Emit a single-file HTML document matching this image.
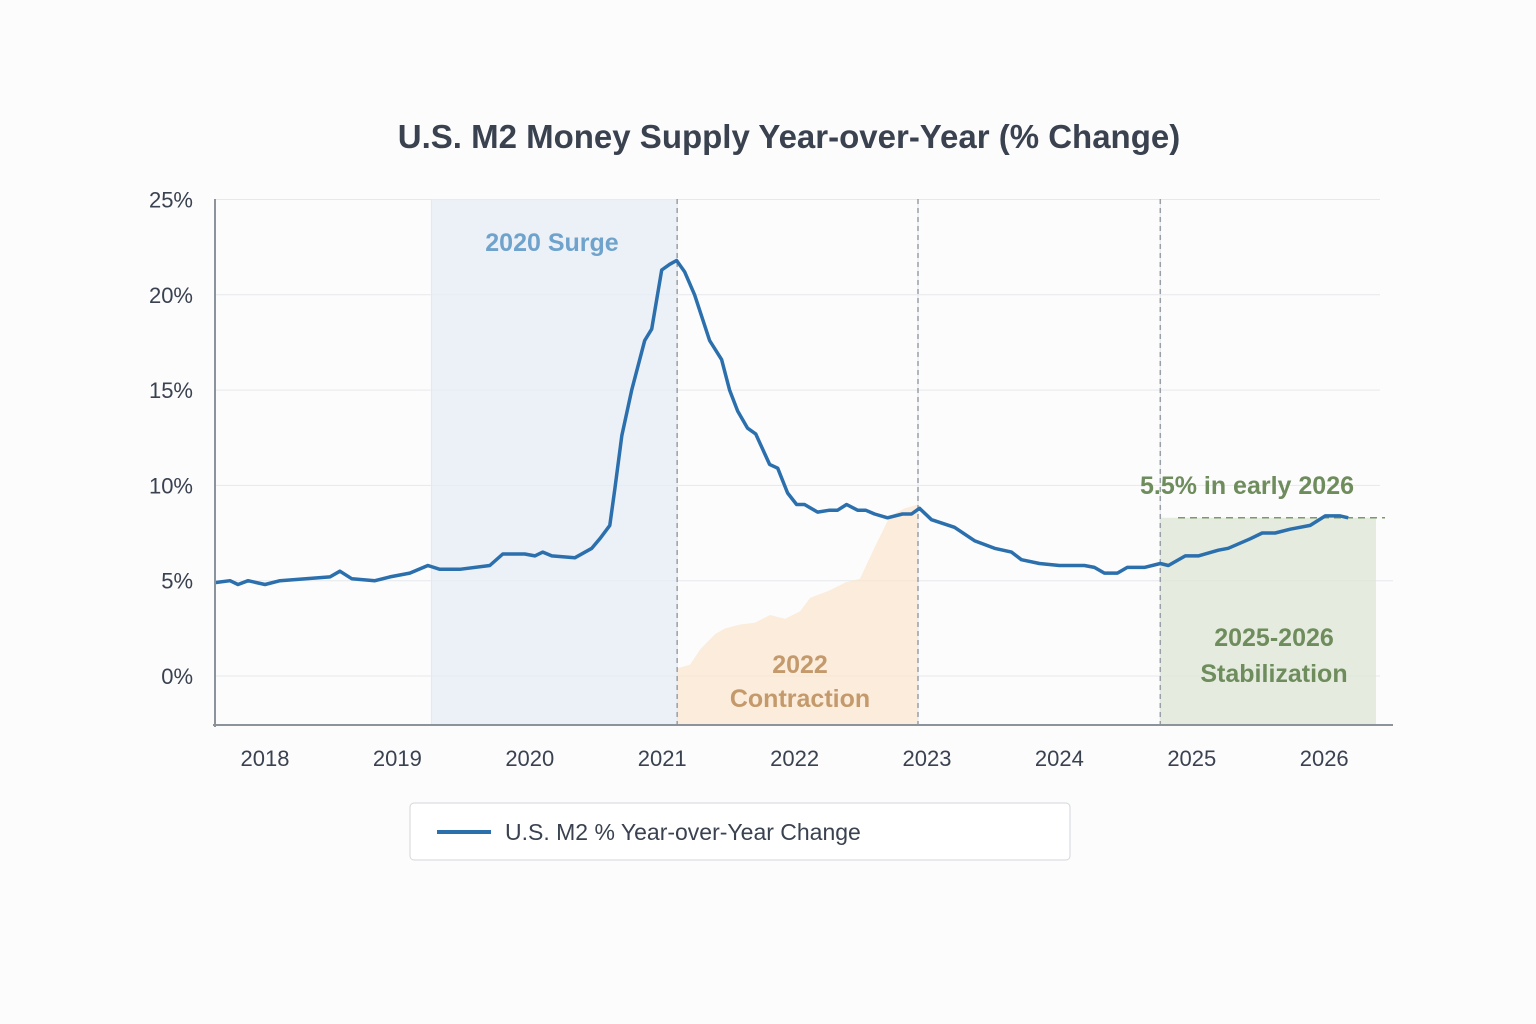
<!DOCTYPE html>
<html><head><meta charset="utf-8"><style>
body{margin:0;background:#fcfcfd;}
svg{display:block;font-family:"Liberation Sans","DejaVu Sans",sans-serif;}
</style></head><body>
<svg id="chart" width="1536" height="1024" viewBox="0 0 1536 1024">
<rect width="1536" height="1024" fill="#fcfcfd"/>
<text x="789" y="148" text-anchor="middle" font-size="33" font-weight="bold" fill="#3a4250">U.S. M2 Money Supply Year-over-Year (% Change)</text>
<g id="grid"></g>
<g id="bands"></g>
<g id="marks"></g>
<g id="axes"></g>
<g id="labels"></g>
<g>
<rect x="410" y="803" width="660" height="57" rx="4" fill="#fff" stroke="#d4d6da"/>
<line x1="437" y1="832" x2="491" y2="832" stroke="#2b6fad" stroke-width="4"/>
<text x="505" y="840" font-size="23" fill="#3a4250">U.S. M2 % Year-over-Year Change</text>
</g>
</svg>
<script>
const yTicks=[0,5,10,15,20,25];
const yearLabels=[2018,2019,2020,2021,2022,2023,2024,2025,2026];
const seriesT=[2017.622,2017.736,2017.796,2017.872,2018.0,2018.113,2018.491,2018.566,2018.656,2018.830,2018.943,2019.094,2019.230,2019.320,2019.471,2019.698,2019.796,2019.962,2020.038,2020.098,2020.166,2020.340,2020.468,2020.529,2020.604,2020.642,2020.695,2020.770,2020.868,2020.921,2020.996,2021.057,2021.109,2021.170,2021.245,2021.358,2021.449,2021.509,2021.570,2021.645,2021.706,2021.811,2021.872,2021.947,2022.015,2022.075,2022.174,2022.264,2022.325,2022.393,2022.476,2022.536,2022.604,2022.702,2022.815,2022.883,2022.943,2023.034,2023.208,2023.359,2023.510,2023.638,2023.713,2023.849,2024.0,2024.189,2024.264,2024.340,2024.438,2024.513,2024.642,2024.762,2024.823,2024.951,2025.049,2025.200,2025.275,2025.441,2025.532,2025.630,2025.743,2025.894,2026.008,2026.121,2026.181];
const seriesV=[4.9,5.0,4.8,5.0,4.8,5.0,5.2,5.5,5.1,5.0,5.2,5.4,5.8,5.6,5.6,5.8,6.4,6.4,6.3,6.5,6.3,6.2,6.7,7.2,7.9,9.8,12.6,15.0,17.6,18.2,21.3,21.6,21.8,21.2,20.0,17.6,16.6,15.0,13.9,13.0,12.7,11.1,10.9,9.6,9.0,9.0,8.6,8.7,8.7,9.0,8.7,8.7,8.5,8.3,8.5,8.5,8.8,8.2,7.8,7.1,6.7,6.5,6.1,5.9,5.8,5.8,5.7,5.4,5.4,5.7,5.7,5.9,5.8,6.3,6.3,6.6,6.7,7.2,7.5,7.5,7.7,7.9,8.4,8.4,8.3];
const contractionT=[2021.113,2021.211,2021.287,2021.400,2021.476,2021.589,2021.702,2021.815,2021.928,2022.042,2022.117,2022.268,2022.381,2022.494,2022.608,2022.721,2022.834,2022.932];
const contractionV=[0.4,0.6,1.4,2.2,2.5,2.7,2.8,3.2,3.0,3.4,4.1,4.5,4.9,5.1,6.8,8.4,8.8,9.0];
const bandStart=[2019.257,2021.113,2022.932,2024.762];
const annotationLevel=[8.3];

const NS="http://www.w3.org/2000/svg";
const X0=215,X1=1393,Y0=725;
const x=t=>265+(t-2018)*132.4;
const y=v=>676-v*19.06;
function mk(tag,attrs,parent){const e=document.createElementNS(NS,tag);for(const k in attrs)e.setAttribute(k,attrs[k]);document.getElementById(parent).appendChild(e);return e;}

yTicks.forEach(v=>{
 const g=mk('line',{x1:X0,x2:v===5?X1:1380,y1:y(v),y2:y(v),stroke:'#e6e8eb','stroke-width':1},'grid');
 
 
 const t=mk('text',{x:193,y:y(v)+8,'text-anchor':'end','font-size':22,fill:'#3a4250'},'axes');
 t.textContent=v+'%';
 
 
});
bandStart.forEach(t=>{
 const g=mk('line',{x1:x(t),x2:x(t),y1:199,y2:Y0,stroke:'#e4e6e9'},'grid');
 
 
});
const b1=mk('rect',{x:x(bandStart[0]),y:199,width:x(bandStart[1])-x(bandStart[0]),height:Y0-199,fill:'#e6edf5',opacity:0.7},'bands');


let d='M'+x(contractionT[0])+','+Y0;
contractionT.forEach((t,i)=>d+=' L'+x(t)+','+y(contractionV[i]));
d+=' L'+x(contractionT[contractionT.length-1])+','+Y0+' Z';
const b2=mk('path',{d:d,fill:'#fbe6cc',opacity:0.7},'bands');


const b3=mk('rect',{x:x(bandStart[3]),y:y(annotationLevel[0]),width:1376-x(bandStart[3]),height:Y0-y(annotationLevel[0]),fill:'#dfe7d7',opacity:0.8},'bands');


[1,2,3].forEach(i=>{
 const l=mk('line',{x1:x(bandStart[i]),x2:x(bandStart[i]),y1:199,y2:Y0,stroke:'#9aa0a8','stroke-dasharray':'5,4','stroke-width':1.5},'bands');
 
 
});
const hl=mk('line',{x1:1178,x2:1385,y1:y(annotationLevel[0]),y2:y(annotationLevel[0]),stroke:'#7a9a68','stroke-dasharray':'7,5','stroke-width':1.5},'bands');


let p='';
seriesT.forEach((t,i)=>p+=(i?' L':'M')+x(t).toFixed(1)+','+y(seriesV[i]).toFixed(1));
const line=mk('path',{d:p,fill:'none',stroke:'#2b6fad','stroke-width':3.5,'stroke-linejoin':'round'},'marks');


const ax=mk('line',{x1:X0,x2:X0,y1:199,y2:Y0+2,stroke:'#8d939b','stroke-width':2},'axes');


const bx=mk('line',{x1:213,x2:X1,y1:Y0,y2:Y0,stroke:'#8d939b','stroke-width':2},'axes');


yearLabels.forEach(yr=>{
 const t=mk('text',{x:x(yr),y:766,'text-anchor':'middle','font-size':22,fill:'#3a4250'},'axes');
 t.textContent=yr;
 
 
});
function lab(txt,xx,yy,col,name){const t=mk('text',{x:xx,y:yy,'text-anchor':'middle','font-size':25,'font-weight':'bold',fill:col},'labels');t.textContent=txt;}
lab('2020 Surge',552,251,'#6fa3cc','surge-label');
lab('2022',800,673,'#c49a6c','contraction-label');
lab('Contraction',800,707,'#c49a6c','contraction-label-2');
lab('2025-2026',1274,646,'#6e8c5c','stabilization-label');
lab('Stabilization',1274,682,'#6e8c5c','stabilization-label-2');
lab('5.5% in early 2026',1247,494,'#6e8c5c','early-2026-callout');
</script>
</body></html>
